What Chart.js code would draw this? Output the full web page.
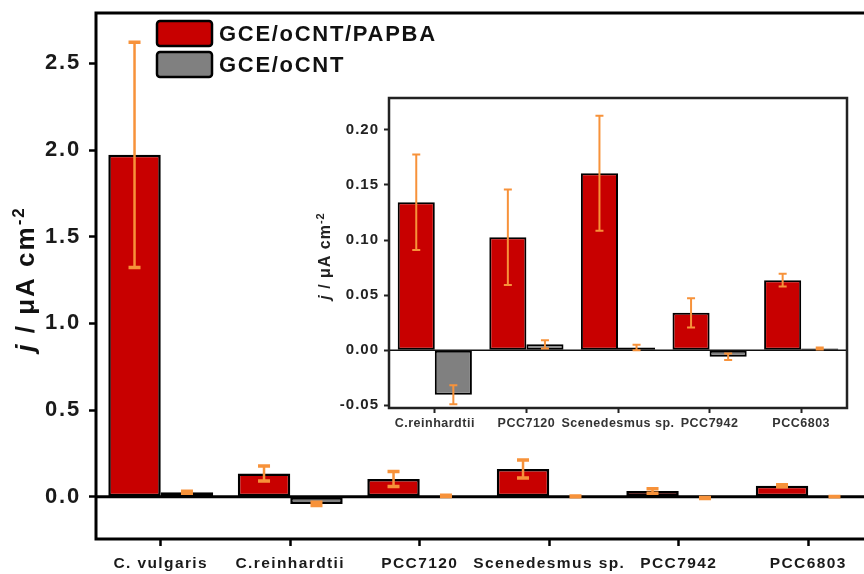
<!DOCTYPE html>
<html>
<head>
<meta charset="utf-8">
<script src="https://cdn.jsdelivr.net/npm/chart.js@4.4.1/dist/chart.umd.min.js"></script>
<style>
  html, body { margin: 0; padding: 0; background: #fff; overflow: hidden; width: 864px; height: 574px; }
  #main { position: absolute; left: 0; top: 0; }
  #inset { position: absolute; left: 305px; top: 85px; }
</style>
</head>
<body>
<canvas id="main" width="880" height="574"></canvas>
<canvas id="inset" width="559" height="365"></canvas>
<script>
// Current density per strain, two electrode types, with standard deviations
const categories = ['C. vulgaris', 'C.reinhardtii', 'PCC7120', 'Scenedesmus sp.', 'PCC7942', 'PCC6803'];
const papbaValues = [1.972, 0.1343, 0.1026, 0.1606, 0.0339, 0.0636];
const papbaErrors = [0.65, 0.0433, 0.0433, 0.0522, 0.0132, 0.0058];
const ocntValues  = [0.027, -0.0405, 0.0053, 0.0025, -0.0060, 0.0015];
const ocntErrors  = [0.006, 0.0087, 0.0038, 0.0025, 0.0030, 0.0009];
const seriesNames = ['GCE/oCNT/PAPBA', 'GCE/oCNT'];
const mainTicks  = [0, 0.5, 1.0, 1.5, 2.0, 2.5];
const insetTicks = [-0.05, 0, 0.05, 0.10, 0.15, 0.20];

const FONT = '"Liberation Sans", Arial, Helvetica, sans-serif';
const RED = '#c80000';
const GREY = '#808080';
const ORANGE = '#f7923a';

// Tick labels drawn with extra letter spacing
const spacedTicks = {
  id: 'spacedTicks',
  afterLayout(chart, args, opts) {
    const spacing = opts.spacing || {};
    Object.keys(spacing).forEach(id => {
      const s = chart.scales[id];
      if (!s || s.__spaced) return;
      const orig = s.drawLabels;
      s.drawLabels = function (area) {
        const ctx = this.ctx;
        ctx.save();
        ctx.letterSpacing = spacing[id] + 'px';
        orig.call(this, area);
        ctx.restore();
      };
      s.__spaced = true;
    });
  }
};

// White background: whole canvas or only the plot area
const background = {
  id: 'background',
  beforeDraw(chart, args, opts) {
    const ctx = chart.ctx;
    ctx.save();
    ctx.fillStyle = '#fff';
    if (opts.areaOnly) {
      const a = chart.chartArea;
      ctx.fillRect(a.left, a.top, a.right - a.left, a.bottom - a.top);
    } else {
      ctx.fillRect(0, 0, chart.width, chart.height);
    }
    ctx.restore();
  }
};

// Zero line, frame and error bars on top of the bars
const overlay = {
  id: 'overlay',
  afterDatasetsDraw(chart, args, opts) {
    const ctx = chart.ctx;
    const a = chart.chartArea;
    const y = chart.scales.y;
    ctx.save();
    // zero line
    const y0 = y.getPixelForValue(0);
    ctx.strokeStyle = opts.zeroColor;
    ctx.lineWidth = opts.zeroWidth;
    ctx.beginPath();
    ctx.moveTo(a.left, y0);
    ctx.lineTo(a.right, y0);
    ctx.stroke();
    // frame
    ctx.strokeStyle = opts.frameColor;
    ctx.lineWidth = opts.frameWidth;
    ctx.strokeRect(a.left, a.top, a.right - a.left, a.bottom - a.top);
    // error bars
    ctx.strokeStyle = ORANGE;
    chart.data.datasets.forEach((ds, di) => {
      const meta = chart.getDatasetMeta(di);
      meta.data.forEach((bar, i) => {
        const v = ds.data[i], e = ds.errorBars[i];
        const yHi = y.getPixelForValue(v + e);
        const yLo = y.getPixelForValue(v - e);
        const half = opts.capWidth / 2;
        ctx.lineWidth = opts.lineWidth;
        ctx.beginPath();
        ctx.moveTo(bar.x, yHi);
        ctx.lineTo(bar.x, yLo);
        ctx.stroke();
        ctx.lineWidth = opts.capThickness;
        ctx.beginPath();
        ctx.moveTo(bar.x - half, yHi); ctx.lineTo(bar.x + half, yHi);
        ctx.moveTo(bar.x - half, yLo); ctx.lineTo(bar.x + half, yLo);
        ctx.stroke();
      });
    });
    ctx.restore();
  }
};

// Rotated y-axis title: italic j, unit with superscript exponent
const yTitle = {
  id: 'yTitle',
  afterDraw(chart, args, opts) {
    const ctx = chart.ctx;
    const size = opts.size;
    const parts = [
      { t: 'j', font: `italic bold ${size}px ${FONT}`, dy: 0 },
      { t: ' / μA cm', font: `bold ${size}px ${FONT}`, dy: 0 },
      { t: '-2', font: `bold ${Math.round(size * 0.66)}px ${FONT}`, dy: -size * 0.4 }
    ];
    ctx.save();
    ctx.letterSpacing = opts.spacing + 'px';
    let total = 0;
    parts.forEach(p => { ctx.font = p.font; p.w = ctx.measureText(p.t).width; total += p.w; });
    ctx.translate(opts.x, opts.y);
    ctx.rotate(-Math.PI / 2);
    ctx.fillStyle = opts.color;
    ctx.textAlign = 'left';
    ctx.textBaseline = 'alphabetic';
    let x = -total / 2;
    parts.forEach(p => { ctx.font = p.font; ctx.fillText(p.t, x, p.dy); x += p.w; });
    ctx.restore();
  }
};

// Legend with large boxed swatches
const boxLegend = {
  id: 'boxLegend',
  afterDraw(chart, args, opts) {
    const ctx = chart.ctx;
    ctx.save();
    ctx.letterSpacing = opts.spacing + 'px';
    chart.data.datasets.forEach((ds, i) => {
      const top = opts.y + i * opts.rowStep;
      ctx.beginPath();
      ctx.roundRect(opts.x, top, opts.boxW, opts.boxH, 3);
      ctx.fillStyle = ds.backgroundColor;
      ctx.fill();
      ctx.lineWidth = 2.5;
      ctx.strokeStyle = '#000';
      ctx.stroke();
      ctx.fillStyle = '#111';
      ctx.font = `bold ${opts.size}px ${FONT}`;
      ctx.textBaseline = 'middle';
      ctx.textAlign = 'left';
      ctx.fillText(ds.label, opts.x + opts.boxW + 7, top + opts.boxH / 2 + 1);
    });
    ctx.restore();
  }
};

function makeDatasets(from, barBorder) {
  return [
    {
      label: seriesNames[0],
      data: papbaValues.slice(from),
      errorBars: papbaErrors.slice(from),
      backgroundColor: RED,
      borderColor: '#000',
      borderWidth: barBorder,
      borderSkipped: false
    },
    {
      label: seriesNames[1],
      data: ocntValues.slice(from),
      errorBars: ocntErrors.slice(from),
      backgroundColor: GREY,
      borderColor: '#000',
      borderWidth: barBorder,
      borderSkipped: false
    }
  ];
}

function fixedTicks(list) {
  return function (scale) { scale.ticks = list.map(v => ({ value: v })); };
}

// Axis sizes fixed so the plot area lands exactly inside the padding
function fixHeight(h) {
  return function (s) { s.height = h; s.paddingLeft = 0; s.paddingRight = 0; };
}
function fixWidth(w) {
  return function (s) { s.width = w; s.paddingTop = 0; s.paddingBottom = 0; };
}

// Main chart
new Chart(document.getElementById('main'), {
  type: 'bar',
  data: { labels: categories, datasets: makeDatasets(0, 2.5) },
  options: {
    responsive: false,
    animation: false,
    events: [],
    layout: { padding: { left: 0, top: 13, right: 7, bottom: 0 } },
    datasets: { bar: { categoryPercentage: 0.81, barPercentage: 1.0 } },
    scales: {
      x: {
        offset: true,
        grid: { offset: false, drawOnChartArea: false, drawTicks: true, tickLength: 7, tickWidth: 2.5, tickColor: '#000' },
        border: { display: false },
        ticks: { color: '#1a1a1a', font: { family: FONT, size: 15.5, weight: 'bold' }, padding: 8, maxRotation: 0, autoSkip: false },
        afterFit: fixHeight(35)
      },
      y: {
        min: -0.243,
        max: 2.79,
        afterBuildTicks: fixedTicks(mainTicks),
        grid: { drawOnChartArea: false, drawTicks: true, tickLength: 7, tickWidth: 2.5, tickColor: '#000' },
        border: { display: false },
        ticks: { color: '#1a1a1a', font: { family: FONT, size: 22, weight: 'bold' }, padding: 8, callback: v => Number(v).toFixed(1) },
        afterFit: fixWidth(96)
      }
    },
    plugins: {
      legend: { display: false },
      tooltip: { enabled: false },
      spacedTicks: { spacing: { x: 1.4, y: 1.8 } },
      background: { areaOnly: false },
      overlay: { zeroColor: '#000', zeroWidth: 3, frameColor: '#000', frameWidth: 3, lineWidth: 2.5, capWidth: 12, capThickness: 3.5 },
      yTitle: { x: 34, y: 279, size: 26, spacing: 2, color: '#111' },
      boxLegend: { x: 157, y: 21, boxW: 55, boxH: 25, rowStep: 31, size: 22, spacing: 1.7 }
    }
  },
  plugins: [spacedTicks, background, overlay, yTitle, boxLegend]
});

// Inset: the five strains with small currents
new Chart(document.getElementById('inset'), {
  type: 'bar',
  data: { labels: categories.slice(1), datasets: makeDatasets(1, 2) },
  options: {
    responsive: false,
    animation: false,
    events: [],
    layout: { padding: { left: 0, top: 13, right: 17, bottom: 0 } },
    datasets: { bar: { categoryPercentage: 0.81, barPercentage: 1.0 } },
    scales: {
      x: {
        offset: true,
        grid: { offset: false, drawOnChartArea: false, drawTicks: true, tickLength: 5, tickWidth: 2, tickColor: '#222' },
        border: { display: false },
        ticks: { color: '#333', font: { family: FONT, size: 12.5, weight: 'bold' }, padding: 3, maxRotation: 0, autoSkip: false },
        afterFit: fixHeight(365 - 13 - 310)
      },
      y: {
        min: -0.0525,
        max: 0.229,
        afterBuildTicks: fixedTicks(insetTicks),
        grid: { drawOnChartArea: false, drawTicks: true, tickLength: 5, tickWidth: 2, tickColor: '#222' },
        border: { display: false },
        ticks: { color: '#222', font: { family: FONT, size: 15, weight: 'bold' }, padding: 5, callback: v => Number(v).toFixed(2) },
        afterFit: fixWidth(84)
      }
    },
    plugins: {
      legend: { display: false },
      tooltip: { enabled: false },
      spacedTicks: { spacing: { x: 0.5, y: 1.0 } },
      background: { areaOnly: true },
      overlay: { zeroColor: '#111', zeroWidth: 1.5, frameColor: '#222', frameWidth: 2.5, lineWidth: 2, capWidth: 8, capThickness: 2 },
      yTitle: { x: 25, y: 171, size: 16, spacing: 1.0, color: '#222' }
    }
  },
  plugins: [spacedTicks, background, overlay, yTitle]
});
</script>
</body>
</html>
